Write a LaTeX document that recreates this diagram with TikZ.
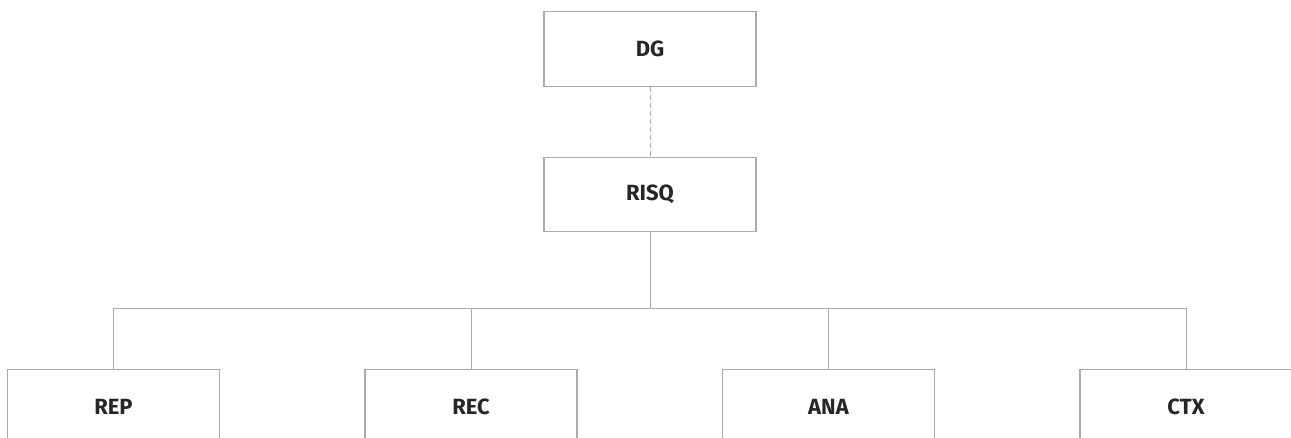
\documentclass[tikz,border=0pt]{standalone}
\usepackage{fontspec}
\setmainfont{Fira Sans}
\definecolor{boxline}{HTML}{ABABAB}
\definecolor{txt}{HTML}{262626}
\begin{document}
\begin{tikzpicture}[
		x=0.75pt, y=-0.75pt,
		unit/.style={rectangle, draw=boxline, line width=0.9pt, minimum width=159pt, minimum height=56pt, text=txt, font=\fontsize{16.5}{19}\selectfont\bfseries},
		l/.style = {draw=boxline, line width=0.75pt},
		d/.style = {draw=boxline, line width=0.75pt, dash pattern=on 3.75pt off 2.25pt}
		]
		\clip (0,0) rectangle (1291,438);
		
		%Nodes
		\node[unit]	(dg)	at (650, 49)		{DG};
		\node[unit]	(risq)	at (650, 194.5)		{RISQ};
		\node[unit]	(rep)	at (113.5, 406.5)	{REP};
		\node[unit]	(rec)	at (471, 406.5)		{REC};
		\node[unit]	(ana)	at (828.5, 406.5)	{ANA};
		\node[unit]	(ctx)	at (1186, 406.5)	{CTX};
		\coordinate	(bus)	at (650, 308);
		
		%Lines
		\draw[d] (dg.south)   -- (risq.north);
		\draw[l] (risq.south) -- (bus);
		\draw[l] (bus) -| (rep.north);
		\draw[l] (bus) -| (rec.north);
		\draw[l] (bus) -| (ana.north);
		\draw[l] (bus) -| (ctx.north);
		
	\end{tikzpicture}
\end{document}
